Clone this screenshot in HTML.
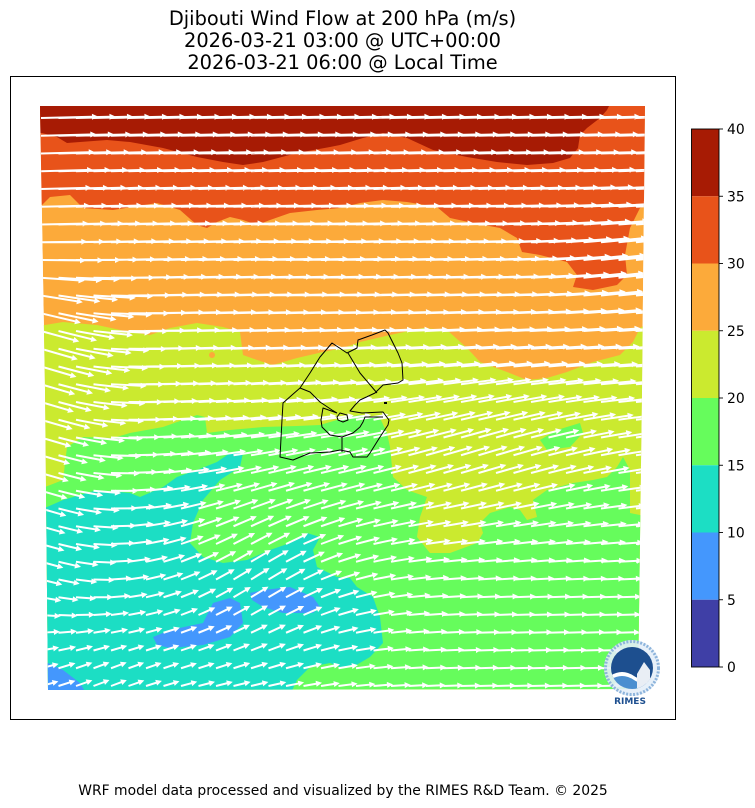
<!DOCTYPE html>
<html><head><meta charset="utf-8">
<style>
html,body{margin:0;padding:0;background:#fff;}
svg{display:block;}
text{font-family:"DejaVu Sans","Liberation Sans",sans-serif;}
</style></head>
<body>
<svg id="s" width="755" height="808" viewBox="0 0 755 808" xmlns="http://www.w3.org/2000/svg">
<defs>
<clipPath id="dc"><polygon points="40,106 645,106 642,390 638,689 48,690 45,390"/></clipPath>
<clipPath id="lc"><circle cx="632" cy="668" r="21"/></clipPath>
</defs>
<rect width="755" height="808" fill="#fff"/>

<g text-anchor="middle" font-size="19.4" fill="#000">
<text x="342.5" y="25">Djibouti Wind Flow at 200 hPa (m/s)</text>
<text x="342.5" y="47">2026-03-21 03:00 @ UTC+00:00</text>
<text x="342.5" y="69">2026-03-21 06:00 @ Local Time</text>
</g>

<rect x="10.5" y="76.5" width="665" height="643" fill="none" stroke="#000" stroke-width="1"/>

<g clip-path="url(#dc)">
<polygon fill="#fcaa3a" points="40,106 645,106 642,390 638,689 48,690 45,390"/>
<polygon fill="#e8531a" points="40,100 650,100 650,205 640,208 630,228 625,255 627,275 617,285 593,290 573,287 577,275 567,262 540,255 522,252 517,238 500,228 473,223 450,218 437,207 407,202 383,200 360,203 340,208 317,210 290,213 270,220 257,225 243,220 230,217 217,222 207,228 197,225 180,210 157,203 113,210 83,208 70,195 50,197 42,205 35,207"/>
<polygon fill="#a71b04" points="35,100 612,100 607,110 600,118 587,128 580,135 578,148 570,158 553,163 527,165 497,162 467,157 433,150 407,138 383,133 363,138 340,145 330,147 297,153 263,162 243,165 223,162 197,157 163,148 130,142 107,140 80,142 67,143 57,137 42,133 35,133"/>
<polygon fill="#cbea2f" points="35,325 45,325 63,322 97,325 130,332 150,335 170,328 197,323 223,327 240,332 243,355 263,362 273,365 297,358 323,352 343,348 360,342 390,335 423,328 447,330 467,348 480,362 507,372 527,380 547,378 567,372 593,362 620,355 633,342 640,328 650,322 650,700 35,700"/>
<circle cx="212" cy="355" r="3" fill="#fcaa3a"/>
<polygon fill="#66fc5c" points="35,487 45,487 63,480 67,447 83,437 113,438 130,433 163,427 197,415 205,417 207,433 230,430 263,427 297,426 320,425 347,417 360,415 375,417 380,418 387,433 390,447 393,477 407,490 427,497 420,517 417,537 430,553 450,553 477,543 483,533 480,523 490,513 510,507 520,510 527,520 537,517 533,500 547,490 573,483 593,480 607,477 617,467 623,457 630,470 630,513 650,517 650,700 35,700"/>
<polygon fill="#66fc5c" points="540,440 557,430 580,423 583,433 570,447 547,450"/>
<polygon fill="#1cdec4" points="35,507 47,507 63,500 97,490 130,493 140,497 163,487 177,477 197,470 217,462 230,453 243,453 240,467 220,480 203,500 193,523 190,543 203,557 223,563 247,560 270,550 290,543 307,533 320,537 313,550 317,567 337,577 350,578 357,587 373,597 380,617 383,643 370,657 353,667 340,667 330,663 310,667 297,680 290,695 35,695"/>
<circle cx="236" cy="494" r="5" fill="#66fc5c"/>
<polygon fill="#4497fd" points="153,637 170,630 203,623 213,603 230,598 240,603 243,623 230,637 203,645 170,648 157,645"/>
<polygon fill="#4497fd" points="250,593 263,590 290,587 313,597 320,607 313,613 283,613 263,607 252,600"/>
<polygon fill="#4497fd" points="40,663 48,663 63,670 80,683 87,695 40,695"/>
<path id="arr" fill="#fff" d=""/>
</g>

<g fill="none" stroke="#000" stroke-width="1" stroke-linejoin="round">
<path d="M332,343 L347,353 L357,348 L358,340 L372,335 L385,330 L388,333 L395,347 L398,353 L402,363 L403,380 L398,383 L383,385 L375,393 L360,400 L355,405 L350,411 L362,413 L383,412 L386,416 L389,420 L388,425 L380,437 L370,453 L367,457 L353,457 L350,452 L340,450 L330,452 L310,453 L293,460 L280,457 L282,420 L283,403 L292,395 L300,388 L310,373 L320,357 Z"/>
<path d="M300,388 L310,392 L320,402 L332,410 L337,413"/>
<path d="M348,353 L360,373 L377,393"/>
<path d="M337,413 L323,408 L321,420 L322,427 L330,435 L342,437 L353,433 L360,427 L363,422 L365,417 L383,417"/>
<path d="M342,437 L342,452"/>
<path d="M337,417 L340,413 L347,415 L348,420 L343,422 L338,420 Z"/>
</g>
<rect x="384" y="402" width="3" height="2" fill="#000"/>

<g>
<circle cx="632" cy="668" r="28" fill="#e4eef8" opacity="0.9"/>
<circle cx="632" cy="668" r="26.5" fill="none" stroke="#8db4dc" stroke-width="3" stroke-dasharray="2 1.5"/>
<circle cx="632" cy="668" r="21" fill="#1d4f8f"/>
<g clip-path="url(#lc)">
<path d="M610,676 Q622,668 634,676 T656,674 L656,692 L610,692 Z" fill="#ffffff"/>
<path d="M610,680 Q622,672 634,680 T656,678 L656,692 L610,692 Z" fill="#4b8fd0"/>
<path d="M637,674 L644,662 L650,670 L650,690 L637,690 Z" fill="#e9eef5"/>
</g>
<text x="630" y="704" text-anchor="middle" font-size="9" font-weight="bold" fill="#1d4f8f">RIMES</text>
</g>

<g>
<rect x="691.5" y="129" width="27.5" height="67.25" fill="#a71b04"/>
<rect x="691.5" y="196.25" width="27.5" height="67.25" fill="#e8531a"/>
<rect x="691.5" y="263.5" width="27.5" height="67.25" fill="#fcaa3a"/>
<rect x="691.5" y="330.75" width="27.5" height="67.25" fill="#cbea2f"/>
<rect x="691.5" y="398" width="27.5" height="67.25" fill="#66fc5c"/>
<rect x="691.5" y="465.25" width="27.5" height="67.25" fill="#1cdec4"/>
<rect x="691.5" y="532.5" width="27.5" height="67.25" fill="#4497fd"/>
<rect x="691.5" y="599.75" width="27.5" height="67.25" fill="#3f3fa6"/>
<rect x="691.5" y="129" width="27.5" height="538" fill="none" stroke="#000" stroke-width="0.9"/>
<g stroke="#000" stroke-width="0.9">
<line x1="719" x2="723" y1="129" y2="129"/>
<line x1="719" x2="723" y1="196.25" y2="196.25"/>
<line x1="719" x2="723" y1="263.5" y2="263.5"/>
<line x1="719" x2="723" y1="330.75" y2="330.75"/>
<line x1="719" x2="723" y1="398" y2="398"/>
<line x1="719" x2="723" y1="465.25" y2="465.25"/>
<line x1="719" x2="723" y1="532.5" y2="532.5"/>
<line x1="719" x2="723" y1="599.75" y2="599.75"/>
<line x1="719" x2="723" y1="667" y2="667"/>
</g>
<g font-size="13.9" fill="#000">
<text x="727" y="134">40</text>
<text x="727" y="201.25">35</text>
<text x="727" y="268.5">30</text>
<text x="727" y="335.75">25</text>
<text x="727" y="403">20</text>
<text x="727" y="470.25">15</text>
<text x="727" y="537.5">10</text>
<text x="727" y="604.75">5</text>
<text x="727" y="672">0</text>
</g>
</g>

<text x="343" y="795" text-anchor="middle" font-size="13.9" fill="#000">WRF model data processed and visualized by the RIMES R&amp;D Team. © 2025</text>
</svg>
<script>
(function(){
function G(x,cx,sx,y,cy,sy){return Math.exp(-Math.pow((x-cx)/sx,2)-Math.pow((y-cy)/sy,2));}
function sig(t){return 1/(1+Math.exp(-t));}
function ang(x,y){
 var a=-1.5;
 a+=-5*G(x,610,70,y,270,60);
 a+=18*Math.exp(-Math.pow((x-40)/60,2))*sig((y-290)/15)*sig((610-y)/15);
 a+=-30*G(x,250,110,y,585,100);
 a+=-15*G(x,480,170,y,460,80);
 a+=-18*G(x,90,90,y,680,45);
 return a*Math.PI/180;
}
function spd(x,y){
 var pts=[[118,38],[200,33],[300,28],[400,23],[500,18],[600,15],[700,13]];
 var s=38;
 for(var k=0;k<pts.length-1;k++){
  if(y>=pts[k][0]&&y<=pts[k+1][0]){
   var t=(y-pts[k][0])/(pts[k+1][0]-pts[k][0]);
   s=pts[k][1]+t*(pts[k+1][1]-pts[k][1]);
  }
 }
 s-=3*G(x,150,150,y,640,80);
 return s;
}
var d=[];
var w=1.0,hw=3.0,hl=6;
function P(x,y,c,s,u,v){return (x+u*c-v*s).toFixed(1)+','+(y+u*s+v*c).toFixed(1);}
for(var i=0;i<33;i++){
 var y=118+i*17.75;
 for(var j=0;j<36;j++){
  var x=41+j*17.5;
  var a=ang(x,y),L=1.5*spd(x,y);
  var c=Math.cos(a),s=Math.sin(a);
  var b=L-hl;
  d.push('M'+P(x,y,c,s,0,-w)+'L'+P(x,y,c,s,b,-w)+'L'+P(x,y,c,s,b,-hw)+'L'+P(x,y,c,s,L,0)+'L'+P(x,y,c,s,b,hw)+'L'+P(x,y,c,s,b,w)+'L'+P(x,y,c,s,0,w)+'Z');
 }
}
document.getElementById('arr').setAttribute('d',d.join(''));
})();
</script>
</body></html>
